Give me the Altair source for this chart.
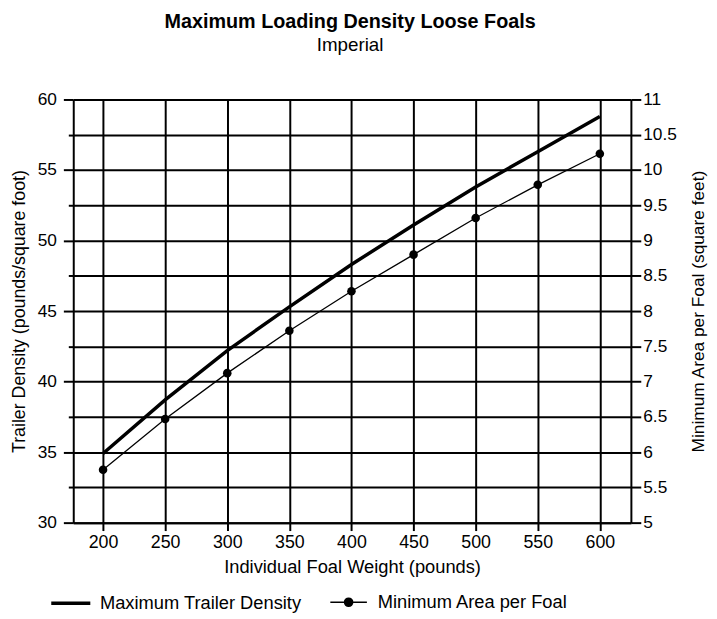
import altair as alt
import pandas as pd

# ---- data ----
weights = [200, 250, 300, 350, 400, 450, 500, 550, 600]
max_density = [34.9, 38.7, 42.2, 45.3, 48.3, 51.1, 53.8, 56.3, 58.8]
min_area = [5.75, 6.47, 7.12, 7.72, 8.28, 8.80, 9.32, 9.79, 10.23]
x_ticks = [200, 250, 300, 350, 400, 450, 500, 550, 600]
left_ticks = [30, 32.5, 35, 37.5, 40, 42.5, 45, 47.5, 50, 52.5, 55, 57.5, 60]
right_ticks = [5, 5.5, 6, 6.5, 7, 7.5, 8, 8.5, 9, 9.5, 10, 10.5, 11]
series_names = ["Maximum Trailer Density", "Minimum Area per Foal"]

df_d = pd.DataFrame({"weight": weights, "density": max_density, "series": series_names[0]})
df_a = pd.DataFrame({"weight": weights, "area": min_area, "series": series_names[1]})

FONT = "Liberation Sans"

x_enc = alt.X(
    "weight:Q",
    scale=alt.Scale(domain=[176, 625], nice=False, zero=False),
    axis=alt.Axis(
        values=x_ticks, format="d", title="Individual Foal Weight (pounds)",
        grid=True, gridColor="black", gridWidth=2, gridOpacity=1,
        domainColor="black", domainWidth=2, tickColor="black", tickWidth=2,
        tickSize=8, labelFontSize=18, labelPadding=3, labelColor="black",
        titleFontSize=18.5, titleFontWeight="normal", titleColor="black", titlePadding=6,
    ),
)

y_density = alt.Y(
    "density:Q",
    scale=alt.Scale(domain=[30, 60], nice=False, zero=False),
    axis=alt.Axis(
        orient="left", values=left_ticks, grid=False,
        labelExpr="datum.value % 5 === 0 ? datum.label : ''",
        tickSize={"condition": {"test": "datum.value % 5 === 0", "value": 10}, "value": 5},
        domainColor="black", domainWidth=2, tickColor="black", tickWidth=2,
        labelFontSize=17.5, labelPadding=7, labelColor="black",
        title="Trailer Density (pounds/square foot)", titleFontSize=18,
        titleFontWeight="normal", titleColor="black", titlePadding=9,
    ),
)

y_area = alt.Y(
    "area:Q",
    scale=alt.Scale(domain=[5, 11], nice=False, zero=False),
    axis=alt.Axis(
        orient="right", values=right_ticks, format="~g",
        grid=True, gridColor="black", gridWidth=2, gridOpacity=1,
        domainColor="black", domainWidth=2, tickColor="black", tickWidth=2,
        tickSize=10, labelFontSize=17.5, labelPadding=2, labelColor="black",
        title="Minimum Area per Foal (square feet)", titleFontSize=17.5,
        titleFontWeight="normal", titleColor="black", titlePadding=13,
        titleAngle=270, titleBaseline="top",
    ),
)

line_d = alt.Chart(df_d).mark_line(strokeWidth=3.5).encode(
    x=x_enc,
    y=y_density,
    color=alt.Color(
        "series:N",
        scale=alt.Scale(domain=[series_names[0]], range=["black"]),
        legend=alt.Legend(
            orient="none", legendX=-24, legendY=488, title=None,
            symbolType="stroke", symbolSize=1560, symbolStrokeWidth=3.5,
            symbolStrokeColor="black", labelFontSize=18.5, labelColor="black",
            labelOffset=8, labelLimit=400,
        ),
    ),
)

dot_path = (
    "M-1,0H1"
    "M-0.22,0A0.22,0.22,0,1,1,0.22,0A0.22,0.22,0,1,1,-0.22,0"
    "M-0.15,0A0.15,0.15,0,1,1,0.15,0A0.15,0.15,0,1,1,-0.15,0"
    "M-0.08,0A0.08,0.08,0,1,1,0.08,0A0.08,0.08,0,1,1,-0.08,0"
    "M-0.03,0A0.03,0.03,0,1,1,0.03,0A0.03,0.03,0,1,1,-0.03,0"
)

line_a = alt.Chart(df_a).mark_line(strokeWidth=1.3).encode(
    x=x_enc,
    y=y_area,
    stroke=alt.Stroke(
        "series:N",
        scale=alt.Scale(domain=[series_names[1]], range=["black"]),
        legend=alt.Legend(
            orient="none", legendX=259, legendY=489, title=None,
            symbolType=dot_path, symbolSize=1369, symbolStrokeWidth=1.6,
            symbolStrokeColor="black", symbolFillColor="black",
            labelFontSize=18.5, labelColor="black", labelOffset=10,
            labelLimit=400,
        ),
    ),
)

pts_a = alt.Chart(df_a).mark_circle(size=75, color="black", opacity=1).encode(
    x=x_enc,
    y=y_area,
)

chart = (
    alt.layer(line_d, alt.layer(line_a, pts_a))
    .resolve_scale(y="independent")
    .properties(
        width=564,
        height=428,
        padding={"left": 66, "top": 89, "right": 79, "bottom": 100},
        autosize=alt.AutoSizeParams(type="none"),
        title=alt.TitleParams(
            text="Maximum Loading Density Loose Foals",
            subtitle="Imperial",
            font=FONT, subtitleFont=FONT,
            fontSize=20, fontWeight="bold", color="black",
            subtitleFontSize=19, subtitleColor="black", subtitlePadding=4,
            anchor="middle", frame="group", offset=36, dx=-2,
        ),
    )
    .configure(font=FONT, background="white")
    .configure_view(stroke=None)
    .configure_axis(labelFont=FONT, titleFont=FONT)
    .configure_legend(labelFont=FONT)
)

chart.save("out.html", embed_options={"renderer": "svg", "actions": False})
